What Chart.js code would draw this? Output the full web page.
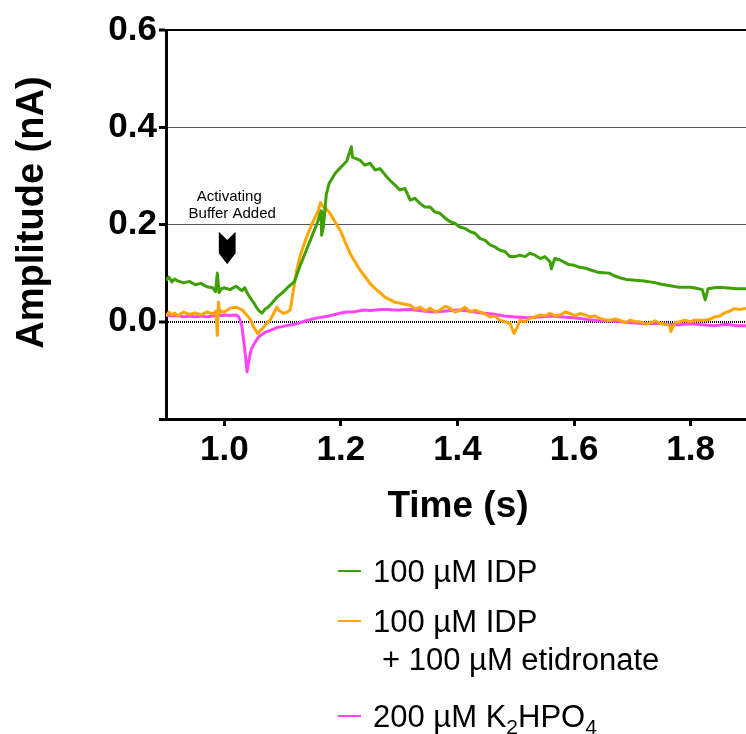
<!DOCTYPE html>
<html>
<head>
<meta charset="utf-8">
<title>Amplitude vs time</title>
<script src="https://cdn.jsdelivr.net/npm/chart.js@4.4.0/dist/chart.umd.min.js"></script>
<style>
  html, body { margin: 0; padding: 0; background: #ffffff; }
  canvas { display: block; }
</style>
</head>
<body>
<canvas id="trace" width="746" height="734"></canvas>
<script>
// ---- Recorded current traces (time in s, amplitude in nA) ----
const idpTime = [
  0.900,0.905,0.910,0.915,0.920,0.930,0.940,0.950,0.960,0.970,
  0.980,0.985,0.988,0.991,0.995,1.000,1.010,1.020,1.030,1.035,
  1.040,1.045,1.050,1.055,1.060,1.065,1.070,1.075,1.080,1.090,
  1.100,1.110,1.120,1.130,1.140,1.150,1.160,1.166,1.167,1.170,
  1.175,1.180,1.190,1.200,1.210,1.218,1.220,1.225,1.233,1.241,
  1.250,1.259,1.267,1.276,1.284,1.293,1.301,1.310,1.319,1.327,
  1.336,1.344,1.353,1.361,1.370,1.379,1.387,1.396,1.404,1.413,
  1.422,1.430,1.439,1.447,1.456,1.464,1.473,1.482,1.490,1.499,
  1.507,1.516,1.524,1.533,1.542,1.550,1.559,1.561,1.567,1.576,
  1.590,1.600,1.610,1.620,1.630,1.640,1.650,1.660,1.670,1.680,
  1.690,1.700,1.710,1.720,1.730,1.740,1.750,1.760,1.770,1.780,
  1.790,1.800,1.810,1.820,1.825,1.830,1.840,1.850,1.860,1.870,
  1.880,1.895
];
const idpAmp = [
  0.085,0.092,0.082,0.088,0.084,0.080,0.083,0.076,0.079,0.072,
  0.070,0.062,0.100,0.060,0.068,0.070,0.066,0.073,0.064,0.070,
  0.058,0.048,0.040,0.030,0.022,0.018,0.026,0.030,0.036,0.050,
  0.060,0.072,0.082,0.115,0.145,0.175,0.205,0.228,0.178,0.195,
  0.262,0.285,0.305,0.318,0.330,0.360,0.338,0.336,0.332,0.322,
  0.326,0.312,0.315,0.302,0.291,0.281,0.271,0.274,0.250,0.254,
  0.243,0.236,0.236,0.226,0.223,0.213,0.206,0.202,0.195,0.192,
  0.185,0.182,0.171,0.168,0.158,0.154,0.147,0.144,0.134,0.134,
  0.137,0.134,0.141,0.137,0.130,0.134,0.123,0.109,0.130,0.127,
  0.118,0.116,0.112,0.110,0.106,0.102,0.101,0.100,0.094,0.090,
  0.087,0.086,0.085,0.084,0.082,0.080,0.077,0.075,0.073,0.071,
  0.071,0.071,0.069,0.066,0.045,0.068,0.070,0.071,0.070,0.069,
  0.068,0.068
];

const etiTime = [
  0.900,0.905,0.910,0.915,0.920,0.930,0.940,0.950,0.960,0.970,
  0.980,0.986,0.988,0.990,0.992,0.995,1.000,1.010,1.020,1.030,
  1.040,1.045,1.050,1.057,1.062,1.067,1.072,1.079,1.085,1.090,
  1.095,1.102,1.108,1.113,1.118,1.124,1.130,1.140,1.150,1.160,
  1.165,1.170,1.175,1.182,1.190,1.199,1.208,1.216,1.225,1.233,
  1.242,1.250,1.259,1.268,1.276,1.285,1.293,1.302,1.310,1.319,
  1.328,1.336,1.345,1.353,1.362,1.370,1.379,1.387,1.396,1.405,
  1.413,1.422,1.430,1.439,1.447,1.456,1.464,1.473,1.481,1.490,
  1.497,1.503,1.507,1.516,1.524,1.533,1.542,1.550,1.559,1.567,
  1.576,1.585,1.593,1.602,1.610,1.619,1.627,1.636,1.644,1.653,
  1.662,1.670,1.679,1.688,1.696,1.705,1.713,1.722,1.730,1.739,
  1.747,1.756,1.764,1.766,1.773,1.781,1.790,1.799,1.807,1.816,
  1.824,1.833,1.841,1.850,1.858,1.867,1.875,1.884,1.895
];
const etiAmp = [
  0.012,0.020,0.014,0.018,0.012,0.020,0.015,0.018,0.014,0.020,
  0.016,0.022,-0.028,0.040,0.018,0.022,0.020,0.028,0.030,0.025,
  0.012,0.004,-0.010,-0.024,-0.018,-0.012,-0.004,0.004,0.018,0.030,
  0.022,0.017,0.020,0.024,0.060,0.105,0.135,0.170,0.200,0.225,
  0.245,0.236,0.232,0.222,0.205,0.188,0.162,0.140,0.122,0.106,
  0.092,0.079,0.068,0.059,0.050,0.045,0.040,0.038,0.036,0.034,
  0.026,0.030,0.022,0.028,0.020,0.024,0.032,0.028,0.020,0.024,
  0.030,0.020,0.024,0.020,0.016,0.010,0.012,0.003,0.000,-0.003,
  -0.024,-0.010,0.003,0.000,0.007,0.010,0.014,0.012,0.017,0.012,
  0.014,0.020,0.017,0.012,0.017,0.014,0.010,0.012,0.007,0.004,
  0.003,0.006,0.003,-0.002,0.003,0.000,0.000,-0.005,-0.003,0.002,
  -0.003,-0.005,-0.007,-0.020,-0.002,0.000,0.003,0.000,0.003,0.003,
  0.003,0.005,0.010,0.012,0.018,0.022,0.027,0.025,0.028
];

const phosTime = [
  0.900,0.910,0.920,0.930,0.940,0.950,0.960,0.970,0.980,0.990,
  1.000,1.010,1.020,1.025,1.030,1.035,1.039,1.042,1.046,1.050,
  1.055,1.060,1.070,1.080,1.090,1.100,1.110,1.120,1.130,1.140,
  1.150,1.160,1.170,1.180,1.190,1.200,1.210,1.220,1.230,1.240,
  1.250,1.260,1.270,1.280,1.290,1.300,1.320,1.340,1.360,1.380,
  1.400,1.420,1.440,1.460,1.480,1.500,1.520,1.540,1.560,1.580,
  1.600,1.620,1.640,1.660,1.680,1.700,1.720,1.740,1.760,1.780,
  1.800,1.820,1.840,1.860,1.880,1.895
];
const phosAmp = [
  0.014,0.012,0.013,0.010,0.012,0.010,0.012,0.010,0.012,0.012,
  0.014,0.013,0.014,0.010,-0.008,-0.055,-0.103,-0.080,-0.058,-0.048,
  -0.038,-0.030,-0.022,-0.017,-0.012,-0.010,-0.007,-0.005,-0.002,0.002,
  0.005,0.008,0.010,0.012,0.015,0.018,0.020,0.020,0.022,0.024,
  0.023,0.024,0.025,0.025,0.024,0.024,0.025,0.022,0.020,0.022,
  0.024,0.022,0.018,0.016,0.012,0.010,0.008,0.010,0.012,0.010,
  0.008,0.005,0.002,0.002,0.000,-0.002,-0.004,-0.003,-0.005,-0.006,
  -0.004,-0.006,-0.008,-0.005,-0.008,-0.008
];

// ---- Labels and ticks ----
const seriesLabels = ['100 µM IDP', '100 µM IDP + 100 µM etidronate', '200 µM K₂HPO₄'];
const legendText = [['100 µM IDP'], ['100 µM IDP', '+ 100 µM etidronate'], ['200 µM K₂HPO₄']];
const xTicks = [1.0, 1.2, 1.4, 1.6, 1.8];
const yTicks = [-0.2, 0.0, 0.2, 0.4, 0.6];
const yLabeled = [0.0, 0.2, 0.4, 0.6];
const markerTime = 1.005;
const markerText = ['Activating', 'Buffer Added'];

const GREEN = '#3fa005';
const ORANGE = '#ffa500';
const MAGENTA = '#ff44ff';
const FAMILY = "'Liberation Sans', Arial, Helvetica, sans-serif";

function toPoints(ts, vs) {
  return ts.map((t, i) => ({ x: t, y: vs[i] }));
}

// Draws text where ₀-₉ are rendered as lowered, smaller digits.
function drawRichText(ctx, text, x, y, size, weight) {
  const subs = '₀₁₂₃₄₅₆₇₈₉';
  let cx = x;
  for (const ch of text) {
    const k = subs.indexOf(ch);
    if (k >= 0) {
      ctx.font = `${weight} ${Math.round(size * 0.68)}px ${FAMILY}`;
      ctx.fillText(String(k), cx, y + size * 0.22);
      cx += ctx.measureText(String(k)).width;
    } else {
      ctx.font = `${weight} ${size}px ${FAMILY}`;
      ctx.fillText(ch, cx, y);
      cx += ctx.measureText(ch).width;
    }
  }
}

// Arrow + caption marking when the buffer was added
const markerPlugin = {
  id: 'bufferMarker',
  afterDatasetsDraw(chart) {
    const { ctx, scales: { x, y } } = chart;
    const px = x.getPixelForValue(markerTime);
    ctx.save();
    ctx.fillStyle = '#000';
    ctx.font = `15px ${FAMILY}`;
    ctx.textAlign = 'center';
    ctx.textBaseline = 'alphabetic';
    ctx.fillText(markerText[0], px + 2, y.getPixelForValue(0.248));
    ctx.fillText(markerText[1], px + 5, y.getPixelForValue(0.213));
    // chevron pointing down
    const top = y.getPixelForValue(0.185);
    const tip = y.getPixelForValue(0.118);
    const hw = 8.4;
    ctx.beginPath();
    ctx.moveTo(px - hw, top);
    ctx.lineTo(px, top + 8.3);
    ctx.lineTo(px + hw, top);
    ctx.lineTo(px + hw, tip - 11);
    ctx.lineTo(px, tip);
    ctx.lineTo(px - hw, tip - 11);
    ctx.closePath();
    ctx.fill();
    ctx.restore();
  }
};

// Axis titles and the stacked legend below the plot
const textPlugin = {
  id: 'axisTitlesAndLegend',
  afterDraw(chart) {
    const { ctx, chartArea } = chart;
    ctx.save();
    ctx.fillStyle = '#000';
    ctx.textBaseline = 'alphabetic';

    // y title
    ctx.save();
    ctx.translate(43, 212.6);
    ctx.rotate(-Math.PI / 2);
    ctx.textAlign = 'center';
    ctx.font = `bold 38px ${FAMILY}`;
    ctx.fillText('Amplitude (nA)', 0, 0);
    ctx.restore();

    // x title
    ctx.textAlign = 'center';
    ctx.font = `bold 37px ${FAMILY}`;
    ctx.fillText('Time (s)', (chartArea.left + chartArea.right) / 2 + 2, 517);

    // legend
    ctx.textAlign = 'left';
    const baselines = [[582], [632, 670], [727]];
    chart.data.datasets.forEach((ds, i) => {
      const lines = legendText[i];
      const b0 = baselines[i][0];
      ctx.strokeStyle = ds.borderColor;
      ctx.lineWidth = 2;
      ctx.beginPath();
      ctx.moveTo(338, b0 - 11);
      ctx.lineTo(361, b0 - 11);
      ctx.stroke();
      lines.forEach((line, j) => {
        drawRichText(ctx, line, j === 0 ? 373 : 382, baselines[i][j], 31, 'normal');
      });
    });
    ctx.restore();
  }
};

const chart = new Chart(document.getElementById('trace'), {
  type: 'line',
  data: {
    datasets: [
      { label: seriesLabels[0], data: toPoints(idpTime, idpAmp), borderColor: GREEN },
      { label: seriesLabels[1], data: toPoints(etiTime, etiAmp), borderColor: ORANGE },
      { label: seriesLabels[2], data: toPoints(phosTime, phosAmp), borderColor: MAGENTA }
    ]
  },
  options: {
    responsive: false,
    devicePixelRatio: 1,
    animation: false,
    layout: { padding: { top: 30, right: 0, bottom: 0, left: 0 } },
    elements: {
      point: { radius: 0 },
      line: { borderWidth: 3, tension: 0, fill: false, borderJoinStyle: 'round' }
    },
    plugins: { legend: { display: false }, tooltip: { enabled: false } },
    scales: {
      x: {
        type: 'linear',
        min: 0.9,
        max: 1.895,
        afterBuildTicks: (s) => { s.ticks = xTicks.map((v) => ({ value: v })); },
        afterFit: (s) => { s.height = 315; },
        grid: { drawOnChartArea: false, tickLength: 7, tickWidth: 3, tickColor: '#000' },
        border: { color: '#000', width: 3 },
        ticks: {
          color: '#000',
          padding: 3,
          maxRotation: 0,
          autoSkip: false,
          font: { family: FAMILY, size: 35, weight: 'bold' },
          callback: (v) => Number(v).toFixed(1)
        }
      },
      y: {
        type: 'linear',
        min: -0.2,
        max: 0.6,
        afterBuildTicks: (s) => { s.ticks = yTicks.map((v) => ({ value: v })); },
        afterFit: (s) => { s.width = 166; },
        grid: {
          color: (c) => {
            const v = c.tick ? c.tick.value : null;
            if (v === -0.2) return 'rgba(0,0,0,0)';
            if (v === 0.2 || v === 0.4) return '#555';
            return '#000';
          },
          lineWidth: (c) => {
            const v = c.tick ? c.tick.value : null;
            if (v === 0.6) return 2;
            if (v === 0) return 2;
            return 1;
          },
          tickLength: 7,
          tickWidth: 3,
          tickColor: '#000'
        },
        border: {
          color: '#000',
          width: 3,
          dash: (c) => (c.tick && c.tick.value === 0 ? [1, 1] : [])
        },
        ticks: {
          color: '#000',
          padding: 2,
          font: { family: FAMILY, size: 35, weight: 'bold' },
          callback: (v) => (yLabeled.includes(v) ? Number(v).toFixed(1) : '')
        }
      }
    }
  },
  plugins: [markerPlugin, textPlugin]
});
</script>
</body>
</html>
